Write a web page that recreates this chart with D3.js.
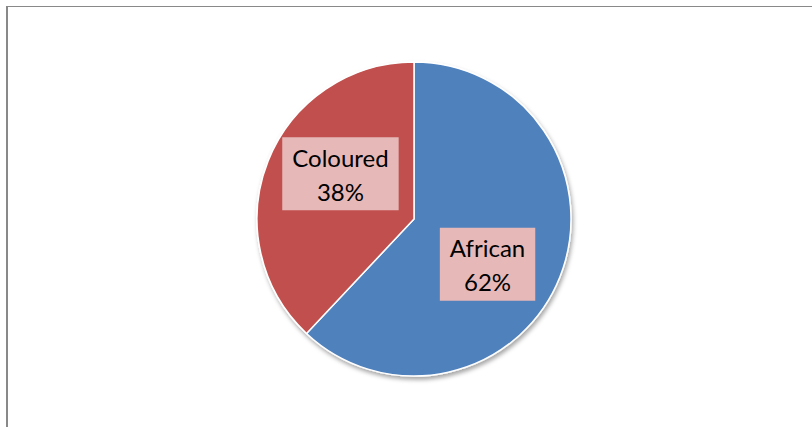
<!DOCTYPE html>
<html>
<head>
<meta charset="utf-8">
<script src="https://cdn.jsdelivr.net/npm/d3@7"></script>
<style>
  html, body { margin: 0; padding: 0; background: #fff; }
  svg { display: block; }
</style>
</head>
<body>
<svg id="chart" width="812" height="427"></svg>
<script>
// Population share by group
const categories = ["African", "Coloured"];
const values = [62, 38];
const colors = ["#4F81BD", "#C0504D"];

const width = 812, height = 427;
const cx = 414, cy = 219, radius = 157;

const svg = d3.select("#chart");

// chart-area frame (top and left edges visible)
svg.append("line").attr("x1", 6).attr("x2", width).attr("y1", 6.5).attr("y2", 6.5)
  .attr("stroke", "#898989").attr("stroke-width", 1);
svg.append("line").attr("x1", 7).attr("x2", 7).attr("y1", 6).attr("y2", height)
  .attr("stroke", "#898989").attr("stroke-width", 2);

const defs = svg.append("defs");
const shadow = defs.append("filter").attr("id", "pieShadow")
  .attr("x", "-10%").attr("y", "-10%").attr("width", "120%").attr("height", "120%");
shadow.append("feDropShadow")
  .attr("dx", 1.5).attr("dy", 3).attr("stdDeviation", 2)
  .attr("flood-color", "#000").attr("flood-opacity", 0.35);

const data = categories.map((c, i) => ({ category: c, value: values[i], color: colors[i] }));
const total = d3.sum(values);

const pie = d3.pie().value(d => d.value).sort(null);
const arcs = pie(data);
const arc = d3.arc().innerRadius(0).outerRadius(radius);

const g = svg.append("g").attr("transform", `translate(${cx},${cy})`);

g.append("g").attr("filter", "url(#pieShadow)")
  .selectAll("path").data(arcs).join("path")
  .attr("d", arc)
  .attr("fill", d => d.data.color)
  .attr("stroke", "#fff")
  .attr("stroke-width", 1.5)
  .attr("stroke-linejoin", "round");

// data labels: category name and percentage in a tinted box
const labelRadius = radius * 0.55;
const angleShift = 10 * Math.PI / 180;
const lineGap = 34;

const labels = g.selectAll("g.label").data(arcs).join("g").attr("class", "label")
  .attr("transform", d => {
    const a = (d.startAngle + d.endAngle) / 2 + angleShift;
    return `translate(${labelRadius * Math.sin(a)},${-labelRadius * Math.cos(a)})`;
  });

labels.each(function(d) {
  const lg = d3.select(this);
  const box = lg.append("rect").attr("fill", "#E6B9B8");
  const t = lg.append("text")
    .attr("text-anchor", "middle")
    .attr("font-family", "Lato, 'Open Sans', sans-serif")
    .attr("font-size", 24)
    .attr("fill", "#000");
  t.append("tspan").attr("x", 0).attr("y", -7).text(d.data.category);
  t.append("tspan").attr("x", 0).attr("y", -7 + lineGap)
    .text(d3.format(".0%")(d.data.value / total));
  const w = t.node().getBBox().width + 20;
  const h = 73;
  box.attr("x", -w / 2).attr("y", -h / 2).attr("width", w).attr("height", h);
});
</script>
</body>
</html>
